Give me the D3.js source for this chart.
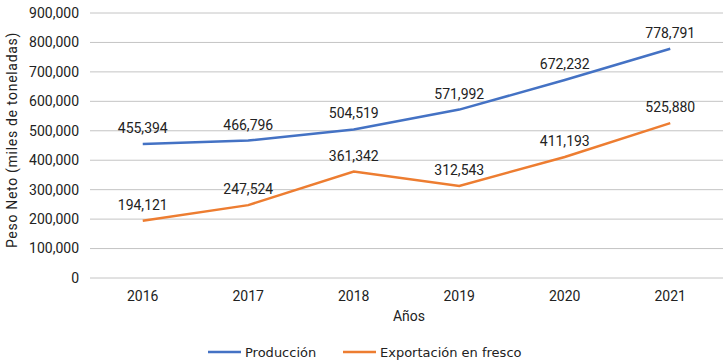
<!DOCTYPE html>
<html>
<head>
<meta charset="utf-8">
<script src="https://cdn.jsdelivr.net/npm/d3@7"></script>
<style>
  body { margin: 0; background: #fff; }
  text { font-family: Roboto, "DejaVu Sans", sans-serif; fill: #222; }
</style>
</head>
<body>
<svg id="chart" width="726" height="363"></svg>
<script>
// datos
const years = ["2016", "2017", "2018", "2019", "2020", "2021"];
const produccion = [455394, 466796, 504519, 571992, 672232, 778791];
const exportacion = [194121, 247524, 361342, 312543, 411193, 525880];
const yTicks = [0, 100000, 200000, 300000, 400000, 500000, 600000, 700000, 800000, 900000];
const seriesNames = ["Producción", "Exportación en fresco"];
const colors = ["#4472C4", "#ED7D31"];

const svg = d3.select("#chart");
const margin = { top: 13, right: 3, bottom: 85, left: 90 };
const width = 726 - margin.left - margin.right;
const height = 363 - margin.top - margin.bottom;

const g = svg.append("g").attr("transform", `translate(${margin.left},${margin.top})`);

const x = d3.scaleBand().domain(years).range([0, width]);
const y = d3.scaleLinear().domain([0, 900000]).range([height, 0]);
const fmt = d3.format(",");

// grid
g.append("g")
    .selectAll("line")
    .data(yTicks)
    .join("line")
    .attr("x1", 0)
    .attr("x2", width)
    .attr("y1", d => y(d))
    .attr("y2", d => y(d))
    .attr("stroke", "#c4c4c4")
    .attr("stroke-width", 1);

// eje y
g.append("g")
    .selectAll("text")
    .data(yTicks)
    .join("text")
    .attr("x", -11)
    .attr("y", d => y(d))
    .attr("dy", "0.35em")
    .attr("text-anchor", "end")
    .attr("font-size", "14px")
    .text(d => fmt(d));

// eje x
g.append("g")
    .selectAll("text")
    .data(years)
    .join("text")
    .attr("x", d => x(d) + x.bandwidth() / 2)
    .attr("y", height + 18)
    .attr("dy", "0.35em")
    .attr("text-anchor", "middle")
    .attr("font-size", "14px")
    .text(d => d);

// titulos
svg.append("text")
    .attr("transform", `translate(17,${margin.top + 127}) rotate(-90)`)
    .attr("text-anchor", "middle")
    .attr("font-size", "14px")
    .attr("letter-spacing", "0.7px")
    .text("Peso Neto (miles de toneladas)");

svg.append("text")
    .attr("x", 409)
    .attr("y", 316)
    .attr("dy", "0.35em")
    .attr("text-anchor", "middle")
    .attr("font-size", "14px")
    .text("Años");

// lineas
const line = d3.line()
    .x((d, i) => x(years[i]) + x.bandwidth() / 2)
    .y(d => y(d));

[produccion, exportacion].forEach((s, k) => {
    g.append("path")
        .datum(s)
        .attr("fill", "none")
        .attr("stroke", colors[k])
        .attr("stroke-width", 2.5)
        .attr("d", line);

    g.append("g")
        .selectAll("text")
        .data(s)
        .join("text")
        .attr("x", (d, i) => x(years[i]) + x.bandwidth() / 2)
        .attr("y", d => y(d) - 11)
        .attr("text-anchor", "middle")
        .attr("font-size", "14px")
        .text(d => fmt(d));
});

// leyenda
const legendX = [208, 343];
seriesNames.forEach((name, k) => {
    const lg = svg.append("g").attr("transform", `translate(${legendX[k]},352)`);
    lg.append("line")
        .attr("x1", 0).attr("x2", 33)
        .attr("stroke", colors[k])
        .attr("stroke-width", 2.5);
    lg.append("text")
        .attr("x", 37)
        .attr("dy", "0.35em")
        .attr("font-size", "13px")
        .style("font-family", "'DejaVu Sans', sans-serif")
        .text(name);
});
</script>
</body>
</html>
